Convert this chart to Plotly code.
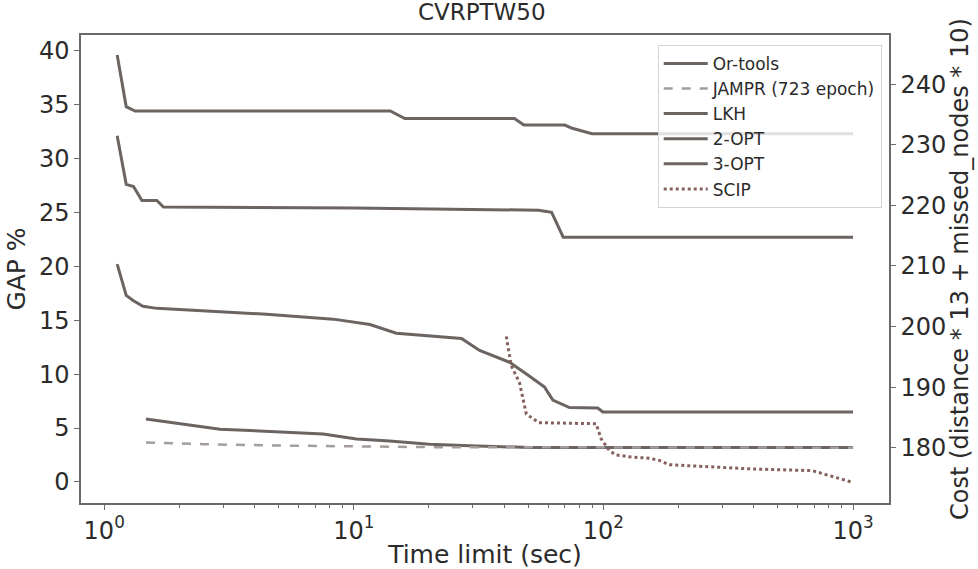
import plotly.graph_objects as go

# ---- data ----
ortools_t = [1.47, 2.91, 7.54, 10.25, 13.9, 20.1, 29.1, 50.6, 1000]
ortools_gap = [5.83, 4.9, 4.45, 3.98, 3.8, 3.5, 3.36, 3.2, 3.2]

jampr_t = [1.47, 2.5, 5.0, 10.0, 20.0, 1000]
jampr_gap = [3.67, 3.5, 3.38, 3.3, 3.23, 3.18]

lkh_t = [1.127, 1.225, 1.31, 1.43, 1.625, 4.47, 8.27, 11.6, 14.8, 24.2, 27.0,
         31.9, 42.1, 50.6, 58.1, 62.7, 73.1, 94.9, 99.4, 1000]
lkh_gap = [20.2, 17.3, 16.8, 16.3, 16.1, 15.55, 15.1, 14.6, 13.8, 13.4, 13.3,
           12.2, 11.1, 9.8, 8.8, 7.6, 6.9, 6.85, 6.5, 6.5]

opt2_t = [1.127, 1.225, 1.33, 14.0, 16.0, 44.0, 48.0, 70.0, 75.0, 90.0, 1000]
opt2_gap = [39.6, 34.8, 34.4, 34.4, 33.7, 33.7, 33.1, 33.1, 32.8, 32.3, 32.3]

opt3_t = [1.127, 1.225, 1.31, 1.416, 1.625, 1.727, 10.0, 30.0, 55.0, 62.0, 69.0, 1000]
opt3_gap = [32.1, 27.6, 27.4, 26.1, 26.1, 25.5, 25.4, 25.3, 25.2, 25.0, 22.7, 22.7]

scip_t = [40.8, 42.7, 46.1, 49.1, 55.1, 93.5, 97.9, 105.7, 112.4, 130.6, 152.8,
          167.5, 183.6, 400.0, 687.0, 801.0, 993.0]
scip_gap = [13.5, 10.8, 9.2, 6.3, 5.5, 5.4, 4.0, 2.9, 2.5, 2.3, 2.2,
            2.0, 1.6, 1.2, 1.05, 0.6, -0.03]

x_tickvals = [1, 10, 100, 1000]
x_ticktext = ["10<sup>0</sup>", "10<sup>1</sup>", "10<sup>2</sup>", "10<sup>3</sup>"]
gap_ticks = [0, 5, 10, 15, 20, 25, 30, 35, 40]
cost_ticks = [180, 190, 200, 210, 220, 230, 240]

# ---- styling ----
SOLID = "#6b6461"
DASH = "#a39d9b"
DOT = "#85605c"
AX = "#6a6a6a"
TXT = "#2b2b2b"
FONT = "DejaVu Sans"

minor_vals = [d * k for d in x_tickvals[:-1] for k in range(2, 10)]

fig = go.Figure()
series = [
    ("Or-tools", ortools_t, ortools_gap, SOLID, "solid", 3),
    ("JAMPR (723 epoch)", jampr_t, jampr_gap, DASH, "dash", 2.5),
    ("LKH", lkh_t, lkh_gap, SOLID, "solid", 3),
    ("2-OPT", opt2_t, opt2_gap, SOLID, "solid", 3),
    ("3-OPT", opt3_t, opt3_gap, SOLID, "solid", 3),
    ("SCIP", scip_t, scip_gap, DOT, "dot", 3),
]
for name, t, g, c, d, w in series:
    fig.add_trace(go.Scatter(x=t, y=g, mode="lines", name=name,
                             line=dict(color=c, dash=d, width=w)))

# invisible trace to materialise the right axis
fig.add_trace(go.Scatter(x=[1], y=[200], yaxis="y2", showlegend=False,
                         mode="lines", line=dict(width=0), hoverinfo="skip"))

fig.update_layout(
    width=978, height=569,
    margin=dict(l=81, r=89, t=35, b=66),
    paper_bgcolor="white", plot_bgcolor="white",
    font=dict(family=FONT, color=TXT, size=24),
    title=dict(text="CVRPTW50", x=0.496, xref="paper", y=0.979,
               yref="container", yanchor="middle", xanchor="center",
               font=dict(size=23, color=TXT, family=FONT)),
    showlegend=True,
    legend=dict(x=0.991, xanchor="right", y=0.979, yanchor="top",
                bgcolor="rgba(255,255,255,0.8)", bordercolor="#d4d4d4",
                borderwidth=1, font=dict(size=17, color=TXT, family=FONT),
                itemwidth=44, tracegroupgap=0),
    xaxis=dict(type="log", range=[-0.093, 3.144], automargin=False,
               tickmode="array", tickvals=x_tickvals, ticktext=x_ticktext,
               ticks="outside", ticklen=5, tickwidth=1.2, tickcolor=AX,
               showgrid=False, zeroline=False,
               showline=True, linecolor=AX, linewidth=1.5, mirror=True,
               tickfont=dict(size=24, color=TXT),
               minor=dict(tickmode="array", tickvals=minor_vals,
                          ticks="outside", ticklen=3, tickcolor=AX, showgrid=False),
               title=dict(text="Time limit (sec)", standoff=6,
                          font=dict(size=25, color=TXT))),
    yaxis=dict(range=[-1.95, 41.45], tickmode="array", tickvals=gap_ticks,
               automargin=False,
               ticks="outside", ticklen=5, tickwidth=1.2, tickcolor=AX,
               showgrid=False, zeroline=False,
               showline=True, linecolor=AX, linewidth=1.5,
               tickfont=dict(size=24, color=TXT),
               title=dict(text="GAP %", standoff=6,
                          font=dict(size=25, color=TXT))),
    yaxis2=dict(overlaying="y", side="right", anchor="x",
                automargin=False,
                range=[170.9, 248.1], tickmode="array", tickvals=cost_ticks,
                ticks="outside", ticklen=5, tickwidth=1.2, tickcolor=AX,
                showgrid=False, zeroline=False,
                showline=True, linecolor=AX, linewidth=1.5,
                tickfont=dict(size=24, color=TXT),
                title=dict(text="Cost (distance * 13 + missed_nodes * 10)",
                           standoff=2, font=dict(size=24, color=TXT))),
)

fig.write_html("out.html")
